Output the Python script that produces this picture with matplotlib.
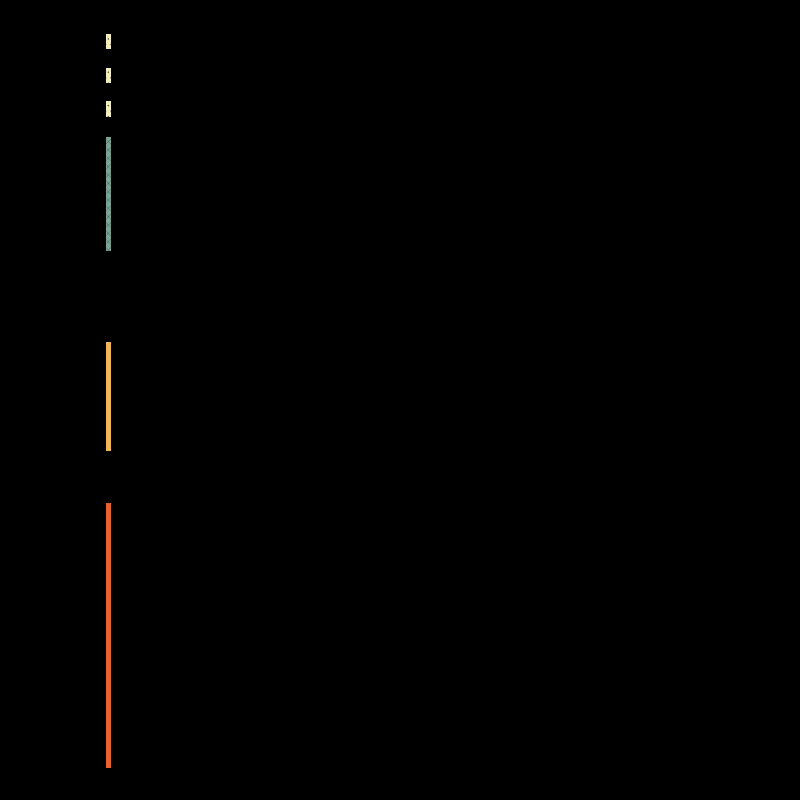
import matplotlib
matplotlib.use("Agg")
import matplotlib.pyplot as plt

# segments of a single stacked column, top to bottom (black segments are invisible gaps)
segments = ["A1", "gap1", "A2", "gap2", "A3", "gap3", "B", "gap4", "C", "gap5", "D"]
values = [15, 19, 15, 18, 16, 20, 114, 91, 109, 52, 265]
colors = ["#f3edbc", "#000000", "#f3edbc", "#000000", "#f3edbc", "#000000",
          "#79a596", "#000000", "#f2b553", "#000000", "#e8622b"]
hatches = ["...", "", "...", "", "...", "", "xxxx", "", "", "", ""]

fig = plt.figure(figsize=(8, 8), dpi=100, facecolor="black")
ax = fig.add_axes([0, 0, 1, 1], facecolor="black")
plt.rcParams["hatch.linewidth"] = 0.2
plt.rcParams["hatch.color"] = "#3a4a40"

bottom = 34
for seg, v, c, h in zip(segments, values, colors, hatches):
    ax.bar(108.5, v, width=5, bottom=bottom, color=c, hatch=h,
           edgecolor="#3a4a40" if h else c, linewidth=0)
    bottom += v

ax.set_xlim(0, 800)
ax.set_ylim(800, 0)
ax.axis("off")
fig.savefig("out.png", dpi=100, facecolor="black")
